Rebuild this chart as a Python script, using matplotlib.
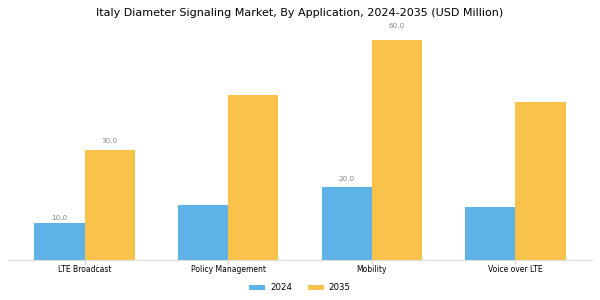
import numpy as np
import matplotlib.pyplot as plt

categories = ['LTE Broadcast', 'Policy Management', 'Mobility', 'Voice over LTE']
values_2024 = [10.0, 15.0, 20.0, 14.5]
values_2035 = [30.0, 45.0, 60.0, 43.0]
labeled = [True, False, True, False]


def main():
    fig = plt.figure(figsize=(6, 3), dpi=100)
    ax = fig.add_axes([0.013, 0.133, 0.974, 0.77])

    x = np.arange(len(categories))
    width = 0.35
    bars1 = ax.bar(x - width / 2, values_2024, width, color='#5DB3E8', label='2024')
    bars2 = ax.bar(x + width / 2, values_2035, width, color='#F9C34B', label='2035')

    for bars, vals in ((bars1, values_2024), (bars2, values_2035)):
        for bar, v, show in zip(bars, vals, labeled):
            if show:
                ax.text(bar.get_x() + bar.get_width() / 2, v * 1.045 + 0.3, f'{v:.1f}',
                        ha='center', va='bottom', fontsize=5.2, color='#888888')

    ax.set_xticks(x)
    ax.set_xticklabels(categories, fontsize=5.5)
    ax.tick_params(axis='x', length=3, color='#cccccc', pad=0.8)
    ax.set_yticks([])
    for side in ('left', 'right', 'top'):
        ax.spines[side].set_visible(False)
    ax.spines['bottom'].set_color('#dddddd')

    fig.suptitle('Italy Diameter Signaling Market, By Application, 2024-2035 (USD Million)',
                 fontsize=8, y=0.975)
    fig.legend(loc='lower center', ncol=2, frameon=False, fontsize=6.2,
               bbox_to_anchor=(0.5, 0.0), handlelength=1.85, handleheight=0.5,
               handletextpad=0.6, columnspacing=1.8)

    fig.savefig('out.png', dpi=100)


if __name__ == "__main__":
    main()
